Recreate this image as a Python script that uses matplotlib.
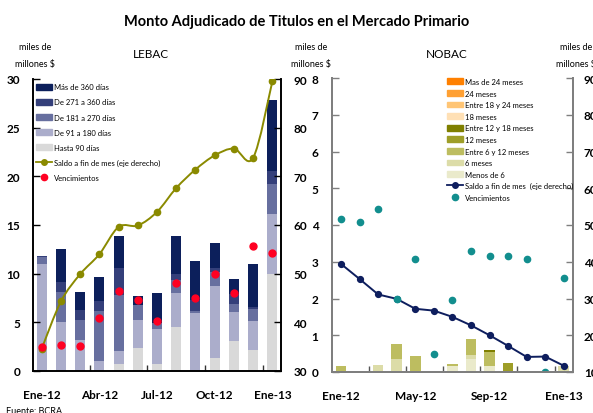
import matplotlib
matplotlib.use('Agg')
import matplotlib.pyplot as plt
import numpy as np
from matplotlib.patches import Patch, PathPatch
from matplotlib.lines import Line2D
from matplotlib.path import Path

plt.rcParams['font.family'] = ['Lato', 'DejaVu Sans']

meses = ['Ene-12', 'Feb-12', 'Mar-12', 'Abr-12', 'May-12', 'Jun-12', 'Jul-12',
         'Ago-12', 'Sep-12', 'Oct-12', 'Nov-12', 'Dic-12', 'Ene-13']

# LEBAC, miles de millones $
lebac_hasta90 = [0, 0, 0, 0, 0.69, 2.33, 0.69, 4.49, 0, 1.31, 3.05, 2.13, 9.94]
lebac_91_180 = [10.97, 5.0, 3.16, 1.0, 1.34, 2.88, 3.59, 3.49, 5.92, 7.4, 2.98, 2.98, 6.16]
lebac_181_270 = [0.75, 3.09, 2.05, 5.13, 5.75, 1.58, 0.69, 1.38, 0.24, 1.47, 0.82, 1.23, 3.1]
lebac_271_360 = [0.1, 1.02, 1.03, 1.03, 2.78, 0.0, 0.0, 0.58, 1.13, 0.45, 1.03, 0.21, 1.3]
lebac_mas360 = [0.0, 3.39, 1.88, 2.47, 3.28, 0.89, 3.0, 3.9, 3.98, 2.49, 1.54, 4.42, 7.3]
lebac_venc = [2.43, 2.67, 2.53, 5.48, 8.22, 7.26, 5.17, 9.08, 7.5, 9.97, 7.98, 12.88, 12.12]
lebac_saldo = [34.6, 44.3, 49.9, 54.0, 59.6, 59.9, 62.7, 67.6, 71.4, 74.3, 75.7, 73.8, 89.5]

# NOBAC, miles de millones $
nobac_mas24 = [0] * 13
nobac_24 = [0] * 13
nobac_18_24 = [0] * 13
nobac_18 = [0] * 13
nobac_12_18 = [0, 0, 0, 0, 0, 0, 0, 0, 0.06, 0, 0, 0, 0]
nobac_12 = [0, 0, 0, 0, 0, 0, 0, 0, 0, 0.24, 0, 0, 0]
nobac_6_12 = [0.17, 0, 0, 0.39, 0.44, 0, 0.06, 0.45, 0.38, 0, 0, 0, 0]
nobac_6 = [0, 0, 0.2, 0.36, 0, 0, 0, 0.09, 0, 0, 0, 0, 0.15]
nobac_menos6 = [0, 0, 0, 0, 0, 0, 0.17, 0.36, 0.17, 0, 0, 0, 0]
nobac_venc = [4.15, 4.08, 4.43, 2.0, 3.07, 0.5, 1.95, 3.28, 3.17, 3.16, 3.08, 0.0, 2.57]
nobac_saldo = [39.4, 35.3, 31.1, 29.9, 27.2, 26.7, 25.0, 22.7, 20.0, 17.1, 14.1, 14.2, 11.7]


def smooth_path(xs, ys):
    # curva suavizada tipo Excel (Catmull-Rom -> Bezier)
    pts = np.column_stack([xs, ys]).astype(float)
    n = len(pts)
    verts = [pts[0]]
    codes = [Path.MOVETO]
    for i in range(n - 1):
        p0 = pts[i - 1] if i > 0 else pts[i]
        p1, p2 = pts[i], pts[i + 1]
        p3 = pts[i + 2] if i + 2 < n else pts[i + 1]
        verts += [p1 + (p2 - p0) / 6, p2 - (p3 - p1) / 6, p2]
        codes += [Path.CURVE4] * 3
    return Path(verts, codes)


W, H = 593, 414
fig = plt.figure(figsize=(W / 100, H / 100), dpi=100)

x = np.arange(1, 14)
tick_font = dict(fontsize=8.5, fontweight='bold')
leg_font = 5.5

# ---------------- LEBAC ----------------
ax = fig.add_axes([32.5 / W, 1 - 372 / H, 248.5 / W, 292 / H])
ax2 = ax.twinx()

lebac_series = [
    (lebac_hasta90, '#D9D9D9', 'Hasta 90 días'),
    (lebac_91_180, '#ABADCB', 'De 91 a 180 días'),
    (lebac_181_270, '#676F9F', 'De 181 a 270 días'),
    (lebac_271_360, '#343F7A', 'De 271 a 360 días'),
    (lebac_mas360, '#0C1F5B', 'Más de 360 días'),
]
bottom = np.zeros(13)
for vals, col, lab in lebac_series:
    ax.bar(x, vals, width=0.52, bottom=bottom, color=col, linewidth=0)
    bottom += np.array(vals)

olive = '#8A8A00'
ax2.add_patch(PathPatch(smooth_path(x, lebac_saldo), fill=False, edgecolor=olive, lw=1.4))
ax2.plot(x, lebac_saldo, 'o', color=olive, ms=4.5, ls='none')
ax2.plot(x, lebac_venc, 'o', color='#FF0022', ms=5, ls='none', transform=ax.transData)

ax.set_xlim(0.52, 13.45)
ax.set_ylim(0, 30)
ax2.set_ylim(30, 90)
ax.set_yticks(np.arange(0, 31, 5), [str(v) for v in range(0, 31, 5)], **tick_font)
ax2.set_yticks(np.arange(30, 91, 10), [str(v) for v in range(30, 91, 10)], **tick_font)
ax.set_xticks([1, 4, 7, 10, 13], [meses[i] for i in [0, 3, 6, 9, 12]], **tick_font)
ax.set_xticks([3.5, 6.5, 9.5, 12.5], minor=True)
ax.tick_params(axis='x', which='major', length=0, pad=13)
ax.tick_params(axis='x', which='minor', direction='in', length=4, width=1, color='#333333')
ax.tick_params(axis='y', direction='in', length=5, width=1, pad=9)
ax2.tick_params(axis='y', direction='in', length=5, width=1, pad=9)
for a in (ax, ax2):
    a.spines['top'].set_visible(False)
    for s in ('left', 'right', 'bottom'):
        a.spines[s].set_linewidth(1.2)
        a.spines[s].set_color('black')

h_left = [Patch(color=c, label=l) for _, c, l in lebac_series[::-1]]
h_left += [Line2D([], [], color=olive, marker='o', ms=4, lw=1.3, label='Saldo a fin de mes (eje derecho)'),
           Line2D([], [], color='#FF0022', marker='o', ms=4.5, ls='none', label='Vencimientos')]
ax2.legend(handles=h_left, loc='upper left', bbox_to_anchor=(0.014, 0.985), frameon=False,
           fontsize=leg_font, handlelength=2.1, handleheight=0.8, handletextpad=0.3,
           labelspacing=1.06, borderaxespad=0, borderpad=0)

# ---------------- NOBAC ----------------
ax3 = fig.add_axes([332.3 / W, 1 - 373 / H, 240.4 / W, 294 / H])
ax4 = ax3.twinx()

nobac_series = [
    (nobac_menos6, '#EAEACB', 'Menos de 6'),
    (nobac_6, '#DCDCA8', '6 meses'),
    (nobac_6_12, '#BDBD60', 'Entre 6 y 12 meses'),
    (nobac_12, '#9E9E28', '12 meses'),
    (nobac_12_18, '#7F7F00', 'Entre 12 y 18 meses'),
    (nobac_18, '#FFE0B5', '18 meses'),
    (nobac_18_24, '#FFC575', 'Entre 18 y 24 meses'),
    (nobac_24, '#FFA033', '24 meses'),
    (nobac_mas24, '#FF8000', 'Mas de 24 meses'),
]
bottom = np.zeros(13)
for vals, col, lab in nobac_series:
    ax3.bar(x, vals, width=0.57, bottom=bottom, color=col, linewidth=0)
    bottom += np.array(vals)

navy = '#0E1E5E'
teal = '#128E8E'
ax4.plot(x, nobac_saldo, color=navy, lw=1.4, marker='o', ms=4.2)
ax4.plot(x, nobac_venc, 'o', color=teal, ms=4.5, ls='none', transform=ax3.transData)

ax3.set_xlim(0.53, 13.48)
ax3.set_ylim(0, 8)
ax4.set_ylim(10, 90)
ax3.set_yticks(np.arange(0, 9), [str(v) for v in range(9)], **tick_font)
ax4.set_yticks(np.arange(10, 91, 10), [str(v) for v in range(10, 91, 10)], **tick_font)
ax3.set_xticks([1, 5, 9, 13], [meses[i] for i in [0, 4, 8, 12]], **tick_font)
ax3.set_xticks([2.5, 4.5, 6.5, 8.5, 10.5, 12.5], minor=True)
ax3.tick_params(axis='x', which='major', length=0, pad=13)
ax3.tick_params(axis='x', which='minor', direction='in', length=4, width=1, color='#555555')
ax3.tick_params(axis='y', direction='in', length=5, width=1, color='#7F7F7F', pad=10)
ax4.tick_params(axis='y', direction='in', length=5, width=1, color='#7F7F7F', pad=8)
for a in (ax3, ax4):
    a.spines['top'].set_visible(False)
    for s in ('left', 'right', 'bottom'):
        a.spines[s].set_linewidth(1.4)
        a.spines[s].set_color('#7F7F7F')

h_right = [Patch(color=c, label=l) for _, c, l in nobac_series[::-1]]
h_right += [Line2D([], [], color=navy, marker='o', ms=4, lw=1.3, label='Saldo a fin de mes  (eje derecho)'),
            Line2D([], [], color=teal, marker='o', ms=4.5, ls='none', label='Vencimientos')]
ax4.legend(handles=h_right, loc='upper left', bbox_to_anchor=(0.477, 1.0), frameon=False,
           fontsize=leg_font, handlelength=2.1, handleheight=0.8, handletextpad=0.3,
           labelspacing=0.6, borderaxespad=0, borderpad=0)

# ---------------- textos ----------------
def ftext(px, py, s, **kw):
    fig.text(px / W, 1 - py / H, s, ha='center', va='center', **kw)

ftext(297, 22, 'Monto Adjudicado de Titulos en el Mercado Primario', fontsize=10.5, fontweight='bold')
ftext(151, 55, 'LEBAC', fontsize=8.5)
ftext(447, 55, 'NOBAC', fontsize=8.5)
for cx in (35, 311, 576):
    ftext(cx, 47, 'miles de', fontsize=6.5)
    ftext(cx, 64, 'millones $', fontsize=6.5)
fig.text(6 / W, 1 - 412 / H, 'Fuente: BCRA', ha='left', va='center', fontsize=6.5)

fig.savefig('out.png', dpi=100)
